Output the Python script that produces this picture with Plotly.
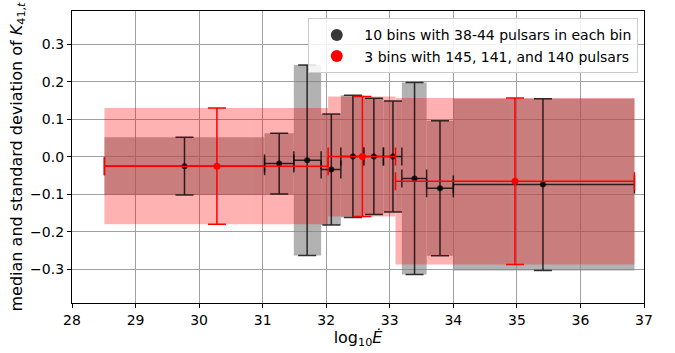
import plotly.graph_objects as go

# Ten narrow bins (38-44 pulsars each): edges, bin centre in log10 Edot, median and std of K41,t
gray_lo = [28.51, 31.03, 31.49, 31.92, 32.23, 32.59, 32.90, 33.19, 33.58, 34.00]
gray_hi = [31.03, 31.49, 31.92, 32.23, 32.59, 32.90, 33.19, 33.58, 34.00, 36.85]
gray_x = [29.77, 31.26, 31.70, 32.08, 32.42, 32.75, 33.05, 33.39, 33.79, 35.41]
gray_med = [-0.025, -0.018, -0.009, -0.034, 0.001, 0.001, 0.001, -0.058, -0.084, -0.074]
gray_std = [0.077, 0.081, 0.254, 0.148, 0.163, 0.155, 0.148, 0.256, 0.180, 0.229]

# Three wide bins (145, 141, 140 pulsars)
red_lo = [28.51, 32.03, 33.09]
red_hi = [32.03, 33.09, 36.85]
red_x = [30.28, 32.57, 34.97]
red_med = [-0.025, 0.001, -0.065]
red_std = [0.155, 0.160, 0.222]

x_ticks = [28, 29, 30, 31, 32, 33, 34, 35, 36, 37]
y_ticks = [-0.3, -0.2, -0.1, 0.0, 0.1, 0.2, 0.3]

FONT = "DejaVu Sans"


def band(lo, hi, med, std, color, opacity):
    return go.Bar(
        x=[(a + b) / 2 for a, b in zip(lo, hi)],
        width=[b - a for a, b in zip(lo, hi)],
        base=[m - s for m, s in zip(med, std)],
        y=[2 * s for s in std],
        marker=dict(color=color, line=dict(width=0)),
        opacity=opacity,
        showlegend=False,
        hoverinfo="skip",
    )


def points(xc, lo, hi, med, std, color, size, name):
    return go.Scatter(
        x=xc,
        y=med,
        mode="markers",
        name=name,
        marker=dict(color=color, size=size),
        error_y=dict(type="data", array=std, symmetric=True,
                     color=color, thickness=1.5, width=9),
        error_x=dict(type="data",
                     array=[b - c for b, c in zip(hi, xc)],
                     arrayminus=[c - a for a, c in zip(lo, xc)],
                     symmetric=False, color=color, thickness=1.5, width=9),
    )


fig = go.Figure()
fig.add_trace(band(gray_lo, gray_hi, gray_med, gray_std, "rgb(128,128,128)", 0.6))
fig.add_trace(band(red_lo, red_hi, red_med, red_std, "rgb(255,0,0)", 0.3))
fig.add_trace(points(gray_x, gray_lo, gray_hi, gray_med, gray_std,
                     "rgba(0,0,0,0.78)", 6, "10 bins with 38-44 pulsars in each bin"))
fig.add_trace(points(red_x, red_lo, red_hi, red_med, red_std,
                     "rgb(255,0,0)", 7, "3 bins with 145, 141, and 140 pulsars"))

axis_common = dict(
    showgrid=True, gridcolor="#a0a0a0", gridwidth=1.2,
    showline=True, linecolor="black", linewidth=1.2, mirror=True,
    ticks="outside", ticklen=4, tickcolor="black",
    zeroline=False,
    tickfont=dict(family=FONT, size=14, color="black"),
)

fig.update_layout(
    width=675, height=353,
    margin=dict(l=72, r=31, t=10, b=49),
    paper_bgcolor="white", plot_bgcolor="white",
    barmode="overlay",
    font=dict(family=FONT, size=14, color="black"),
    xaxis=dict(range=[28, 37], tickvals=x_ticks,
               title=dict(text="log<sub>10</sub><i>Ė</i>", standoff=4,
                          font=dict(family=FONT, size=16)),
               **axis_common),
    yaxis=dict(range=[-0.39, 0.389], tickvals=y_ticks, tickformat=".1f",
               title=dict(text="median and standard deviation of <i>K</i><sub>41,<i>t</i></sub>",
                          standoff=3, font=dict(family=FONT, size=16)),
               **axis_common),
    legend=dict(x=0.99, y=0.975, xanchor="right", yanchor="top",
                bgcolor="rgba(255,255,255,0.85)", bordercolor="#cccccc", borderwidth=1,
                font=dict(family=FONT, size=14), tracegroupgap=0,
                itemsizing="constant", itemwidth=45),
)

fig.write_html("out.html")
